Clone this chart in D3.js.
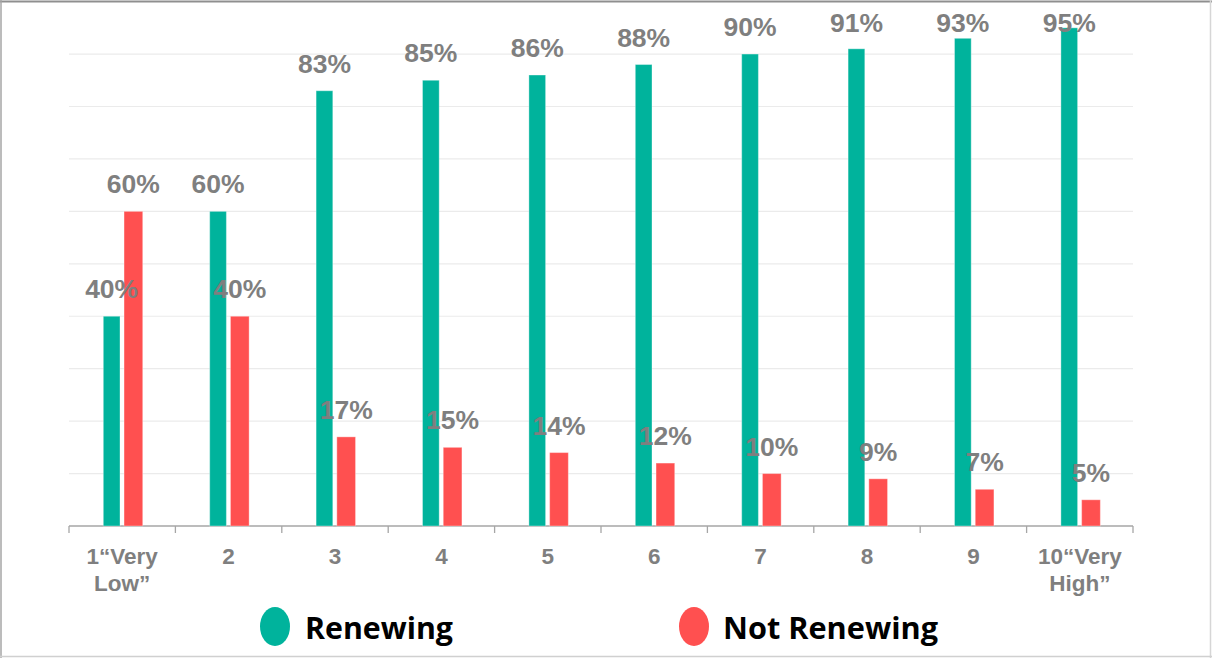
<!DOCTYPE html>
<html>
<head>
<meta charset="utf-8">
<script src="https://cdn.jsdelivr.net/npm/d3@7"></script>
<style>
  html, body { margin: 0; padding: 0; background: #fff; }
  svg { display: block; }
</style>
</head>
<body>
<svg id="chart" width="1212" height="658"></svg>
<script>
// Renewal intent by satisfaction score
const categories = ["1“Very\nLow”", "2", "3", "4", "5", "6", "7", "8", "9", "10“Very\nHigh”"];
const series = ["Renewing", "Not Renewing"];
const renewing = [40, 60, 83, 85, 86, 88, 90, 91, 93, 95];
const notRenewing = [60, 40, 17, 15, 14, 12, 10, 9, 7, 5];
const gridTicks = [10, 20, 30, 40, 50, 60, 70, 80, 90];

const colors = { "Renewing": "#00b39c", "Not Renewing": "#ff5050" };
const barWidths = { "Renewing": 16.7, "Not Renewing": 18.7 };
const valuesBySeries = { "Renewing": renewing, "Not Renewing": notRenewing };

const svg = d3.select("#chart");
const W = 1212, H = 658;
const plot = { left: 69, right: 1133, top: 1.6, bottom: 526 };

// Frame around the whole graphic
svg.append("line").attr("x1", 0).attr("x2", W).attr("y1", 1.5).attr("y2", 1.5)
  .attr("stroke", "#8f8f8f").attr("stroke-width", 2);
svg.append("line").attr("x1", 1).attr("x2", 1).attr("y1", 0).attr("y2", H)
  .attr("stroke", "#a6a6a6").attr("stroke-width", 1.5);
svg.append("line").attr("x1", W - 1.5).attr("x2", W - 1.5).attr("y1", 0).attr("y2", H)
  .attr("stroke", "#d6d6d6").attr("stroke-width", 1.5);
svg.append("line").attr("x1", 0).attr("x2", W).attr("y1", H - 1.5).attr("y2", H - 1.5)
  .attr("stroke", "#d0d0d0").attr("stroke-width", 1.5);

const x0 = d3.scaleBand().domain(categories).range([plot.left, plot.right]).padding(0);
const x1 = d3.scaleBand().domain(series).range([34.3, 73.7]).paddingInner(0.1);
const y = d3.scaleLinear().domain([0, 100]).range([plot.bottom, plot.top]);

// Horizontal gridlines
svg.append("g").selectAll("line").data(gridTicks).join("line")
  .attr("x1", plot.left).attr("x2", plot.right)
  .attr("y1", d => y(d)).attr("y2", d => y(d))
  .attr("stroke", "#ebebeb").attr("stroke-width", 1.2);

// Category axis with ticks at band edges
const axisG = svg.append("g").attr("transform", `translate(0,${plot.bottom})`);
axisG.append("line").attr("x1", plot.left).attr("x2", plot.right)
  .attr("y1", 0).attr("y2", 0).attr("stroke", "#a6a6a6").attr("stroke-width", 1.3);
const edges = categories.map(c => x0(c)).concat([x0(categories[categories.length - 1]) + x0.bandwidth()]);
axisG.selectAll("line.tick").data(edges).join("line").attr("class", "tick")
  .attr("x1", d => d).attr("x2", d => d).attr("y1", 0).attr("y2", 7)
  .attr("stroke", "#a6a6a6").attr("stroke-width", 1.3);

const catLabels = svg.append("g").selectAll("text").data(categories).join("text")
  .attr("x", d => x0(d) + x0.bandwidth() / 2)
  .attr("y", 564)
  .attr("text-anchor", "middle")
  .attr("font-family", "'Liberation Sans', Arial, sans-serif")
  .attr("font-weight", "bold").attr("font-size", 22.5)
  .attr("fill", "#7f7f7f");
catLabels.each(function(d) {
  const lines = d.split("\n");
  d3.select(this).selectAll("tspan").data(lines).join("tspan")
    .attr("x", x0(d) + x0.bandwidth() / 2)
    .attr("dy", (l, i) => i === 0 ? 0 : 27)
    .text(l => l);
});

// Bars and value labels
const rows = categories.map((c, i) => series.map(s => ({ cat: c, s, v: valuesBySeries[s][i] })));
const groups = svg.append("g").selectAll("g").data(rows).join("g")
  .attr("transform", d => `translate(${x0(d[0].cat)},0)`);

groups.selectAll("rect").data(d => d).join("rect")
  .attr("x", d => x1(d.s))
  .attr("width", d => barWidths[d.s])
  .attr("y", d => y(d.v))
  .attr("height", d => y(0) - y(d.v))
  .attr("fill", d => colors[d.s])
  .attr("stroke", "rgba(255,255,255,0.35)").attr("stroke-width", 1);

groups.selectAll("text").data(d => d).join("text")
  .attr("x", d => x1(d.s) + barWidths[d.s] / 2)
  .attr("y", d => Math.max(y(d.v) - 18, 32))
  .attr("text-anchor", "middle")
  .attr("font-family", "'Liberation Sans', Arial, sans-serif")
  .attr("font-weight", "bold").attr("font-size", 26.5)
  .attr("fill", "#7f7f7f")
  .text(d => d.v + "%");

// Legend
const legendItems = [
  { s: "Renewing", cx: 275, tx: 305, tw: 148 },
  { s: "Not Renewing", cx: 694, tx: 723, tw: 215 }
];
const lg = svg.append("g");
lg.selectAll("ellipse").data(legendItems).join("ellipse")
  .attr("cx", d => d.cx).attr("cy", 626.5).attr("rx", 15).attr("ry", 19.5)
  .attr("fill", d => colors[d.s]);
lg.selectAll("text").data(legendItems).join("text")
  .attr("x", d => d.tx).attr("y", 638.5)
  .attr("font-family", "'Open Sans', 'Noto Sans', sans-serif")
  .attr("font-weight", "bold").attr("font-size", 30)
  .attr("textLength", d => d.tw).attr("lengthAdjust", "spacingAndGlyphs")
  .attr("fill", "#000")
  .text(d => d.s);
</script>
</body>
</html>
